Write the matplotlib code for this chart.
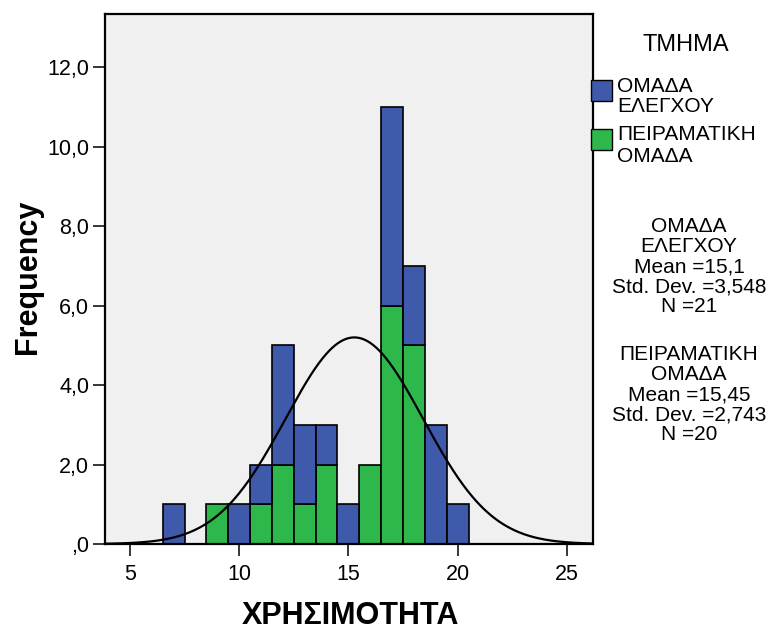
import numpy as np
import matplotlib
matplotlib.use("Agg")
import matplotlib.pyplot as plt
from matplotlib.patches import Rectangle

plt.rcParams['font.family'] = ['Liberation Sans', 'DejaVu Sans']

# ---- data ----
bin_centers = [7, 8, 9, 10, 11, 12, 13, 14, 15, 16, 17, 18, 19, 20]
control_counts = [1, 0, 0, 1, 1, 3, 2, 1, 1, 0, 5, 2, 3, 1]        # ΟΜΑΔΑ ΕΛΕΓΧΟΥ
experimental_counts = [0, 0, 1, 0, 1, 2, 1, 2, 0, 2, 6, 5, 0, 0]   # ΠΕΙΡΑΜΑΤΙΚΗ ΟΜΑΔΑ
group_names = ["ΟΜΑΔΑ\nΕΛΕΓΧΟΥ", "ΠΕΙΡΑΜΑΤΙΚΗ\nΟΜΑΔΑ"]
group_means = [15.1, 15.45]
group_sds = [3.548, 2.743]
group_ns = [21, 20]
x_ticks = [5, 10, 15, 20, 25]
y_ticks = [0, 2, 4, 6, 8, 10, 12]

BLUE = "#3F59AB"
GREEN = "#2EB84B"
W, H = 771, 630

fig = plt.figure(figsize=(W / 100, H / 100), dpi=100)
fig.patch.set_facecolor("white")

def fx(x):
    return x / W

def fy(y):
    return 1 - y / H

ax = fig.add_axes([fx(105), fy(544), fx(592.7) - fx(105), fy(13.5) - fy(544)])
ax.set_facecolor("#F0F0F0")

bc = np.array(bin_centers, dtype=float)
ctrl = np.array(control_counts, dtype=float)
expt = np.array(experimental_counts, dtype=float)

m_e = expt > 0
ax.bar(bc[m_e], expt[m_e], width=1.0, color=GREEN, edgecolor="black", linewidth=1.2, zorder=2)
m_c = ctrl > 0
ax.bar(bc[m_c], ctrl[m_c], bottom=expt[m_c], width=1.0, color=BLUE, edgecolor="black", linewidth=1.2, zorder=2)

# normal curve for combined sample
n_tot = sum(group_ns)
mu = sum(n * m for n, m in zip(group_ns, group_means)) / n_tot
ss = sum((n - 1) * s ** 2 + n * (m - mu) ** 2 for n, m, s in zip(group_ns, group_means, group_sds))
sd = np.sqrt(ss / (n_tot - 1))
xlo, xhi = 3.86, 26.18
xs = np.linspace(xlo, xhi, 400)
ys = n_tot * 1.0 / (sd * np.sqrt(2 * np.pi)) * np.exp(-0.5 * ((xs - mu) / sd) ** 2)
ax.plot(xs, ys, color="black", linewidth=1.6, zorder=3)

ax.set_xlim(xlo, xhi)
ax.set_ylim(0, 13.35)
ax.set_xticks(x_ticks)
ax.set_xticklabels([str(t) for t in x_ticks])
ax.set_yticks(y_ticks)
ax.set_yticklabels([(f"{t:.1f}".replace(".", ",") if t != 0 else ",0") for t in y_ticks])
ax.tick_params(axis="both", direction="out", length=8.5, width=1.1, labelsize=15.5, color="black")
ax.tick_params(axis="x", pad=6)
ax.tick_params(axis="y", pad=3)
for s in ax.spines.values():
    s.set_linewidth(1.6)
    s.set_color("black")

fig.text(fx(28), fy(277), "Frequency", rotation=90, ha="center", va="center",
         fontsize=22, fontweight="bold")
fig.text(fx(350), fy(616), "ΧΡΗΣΙΜΟΤΗΤΑ", ha="center", va="center",
         fontsize=22, fontweight="bold")

# legend
fig.text(fx(686), fy(42.5 + 8.5), "ΤΜΗΜΑ", ha="center", va="baseline", fontsize=17)
patch_y = [(80, 101), (129, 150)]
for (y0, y1), col in zip(patch_y, [BLUE, GREEN]):
    fig.patches.append(Rectangle((fx(591), fy(y1)), fx(612) - fx(591), fy(y0) - fy(y1),
                                 transform=fig.transFigure, facecolor=col,
                                 edgecolor="black", linewidth=1.0))
entry_lines = [[(84, group_names[0].split("\n")[0]), (104, group_names[0].split("\n")[1])],
               [(133, group_names[1].split("\n")[0]), (155, group_names[1].split("\n")[1])]]
for lines in entry_lines:
    for yc, t in lines:
        fig.text(fx(617), fy(yc + 7.5), t, ha="left", va="baseline", fontsize=15)

# statistics
stat_y0 = [225, 353]
for y0, name, m, s, n in zip(stat_y0, group_names, group_means, group_sds, group_ns):
    lines = name.split("\n") + [
        "Mean =" + f"{m:g}".replace(".", ","),
        "Std. Dev. =" + f"{s:.3f}".replace(".", ","),
        f"N ={n}",
    ]
    for i, t in enumerate(lines):
        fig.text(fx(689), fy(y0 + i * 20 + 7.5), t, ha="center", va="baseline", fontsize=15)

fig.savefig("out.png", dpi=100, facecolor="white")
